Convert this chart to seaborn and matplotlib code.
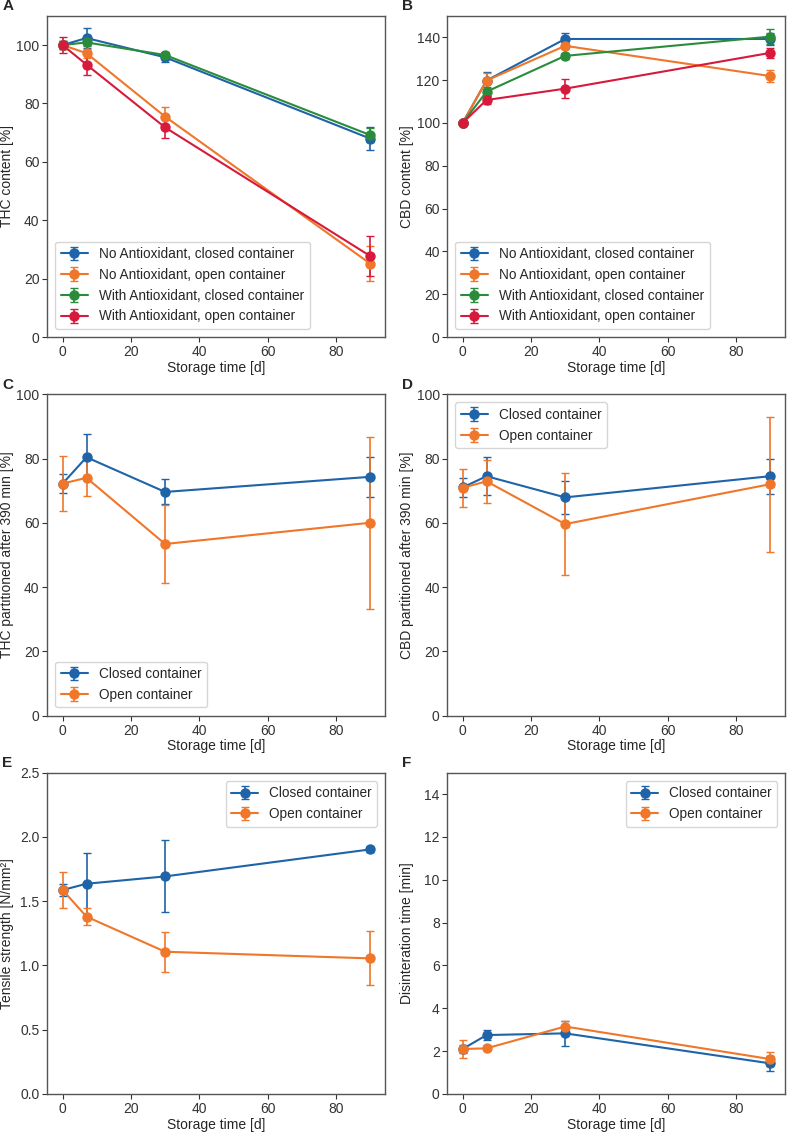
import matplotlib
matplotlib.use("Agg")
import matplotlib.pyplot as plt
import numpy as np
import seaborn as sns

# storage time points [d]
days = [0, 7, 30, 90]

# panel A: THC content [%]
thc_no_closed = [100.0, 102.4, 95.8, 68.0]
thc_no_closed_err = [1.5, 3.3, 1.5, 3.9]
thc_no_open = [100.0, 97.2, 75.5, 25.2]
thc_no_open_err = [1.5, 1.5, 3.3, 6.0]
thc_with_closed = [100.0, 100.9, 96.6, 69.2]
thc_with_closed_err = [1.5, 1.3, 1.0, 2.3]
thc_with_open = [100.0, 93.3, 71.8, 27.8]
thc_with_open_err = [2.7, 3.5, 3.7, 6.9]

# panel B: CBD content [%]
cbd_no_closed = [100.0, 119.8, 139.2, 139.2]
cbd_no_closed_err = [1.0, 4.0, 2.8, 3.0]
cbd_no_open = [100.0, 119.8, 136.0, 121.9]
cbd_no_open_err = [1.0, 3.5, 1.5, 3.0]
cbd_with_closed = [100.0, 114.6, 131.3, 140.3]
cbd_with_closed_err = [1.0, 2.0, 1.5, 3.5]
cbd_with_open = [100.0, 110.7, 116.0, 132.7]
cbd_with_open_err = [1.0, 2.0, 4.5, 2.2]

# panel C: THC partitioned after 390 min [%]
thc_part_closed = [72.2, 80.4, 69.6, 74.3]
thc_part_closed_err = [3.0, 7.2, 3.9, 6.2]
thc_part_open = [72.2, 74.0, 53.4, 60.0]
thc_part_open_err = [8.5, 5.8, 12.2, 26.8]

# panel D: CBD partitioned after 390 min [%]
cbd_part_closed = [71.0, 74.5, 67.9, 74.5]
cbd_part_closed_err = [3.0, 6.0, 5.1, 5.5]
cbd_part_open = [70.9, 72.9, 59.6, 72.0]
cbd_part_open_err = [5.9, 6.7, 15.9, 21.0]

# panel E: tensile strength [N/mm2]
tensile_closed = [1.587, 1.636, 1.693, 1.903]
tensile_closed_err = [0.05, 0.24, 0.28, 0.02]
tensile_open = [1.587, 1.380, 1.107, 1.055]
tensile_open_err = [0.14, 0.065, 0.155, 0.21]

# panel F: disintegration time [min]
disint_closed = [2.10, 2.75, 2.83, 1.43]
disint_closed_err = [0.2, 0.25, 0.59, 0.36]
disint_open = [2.10, 2.13, 3.15, 1.63]
disint_open_err = [0.4, 0.1, 0.27, 0.34]

four_labels = ["No Antioxidant, closed container", "No Antioxidant, open container",
               "With Antioxidant, closed container", "With Antioxidant, open container"]
two_labels = ["Closed container", "Open container"]

sns.set_theme(style="ticks")
plt.rcParams['font.family'] = ['Liberation Sans', 'DejaVu Sans']
plt.rcParams['font.size'] = 10
plt.rcParams['axes.labelsize'] = 10
plt.rcParams['xtick.labelsize'] = 10
plt.rcParams['ytick.labelsize'] = 10
plt.rcParams['legend.fontsize'] = 9.8
plt.rcParams['axes.edgecolor'] = '#555555'
plt.rcParams['axes.linewidth'] = 1.0
plt.rcParams['xtick.color'] = '#333333'
plt.rcParams['ytick.color'] = '#333333'
plt.rcParams['xtick.major.size'] = 3.5
plt.rcParams['ytick.major.size'] = 3.5
plt.rcParams['xtick.major.width'] = 0.8
plt.rcParams['ytick.major.width'] = 0.8
plt.rcParams['xtick.major.pad'] = 2.5
plt.rcParams['ytick.major.pad'] = 2

colors = ["#1f63a8", "#f0762a", "#2a8c3a", "#d71a3c"]


def draw(ax, series, labels, ylabel, ylim, loc, letter):
    for (vals, errs), lab, col in zip(series, labels, colors):
        ax.errorbar(days, vals, yerr=errs, label=lab, color=col, marker='o',
                    markersize=6.5, linewidth=1.5, capsize=3, elinewidth=1.2)
    ax.set_ylim(*ylim)
    ax.set_xlabel("Storage time [d]", labelpad=1)
    ax.set_ylabel(ylabel)
    ax.yaxis.set_label_coords(-0.098, 0.5)
    ax.legend(loc=loc, handlelength=2.0, borderaxespad=0.6)
    ax.text(-0.133, 1.03, letter, transform=ax.transAxes, fontsize=11,
            fontweight='bold', va='center', ha='left')


fig, axes = plt.subplots(3, 2, figsize=(7.87, 11.32), dpi=100)
fig.subplots_adjust(left=0.06, right=0.998, top=0.986, bottom=0.0336,
                     wspace=0.183, hspace=0.178)

draw(axes[0, 0],
     [(thc_no_closed, thc_no_closed_err), (thc_no_open, thc_no_open_err),
      (thc_with_closed, thc_with_closed_err), (thc_with_open, thc_with_open_err)],
     four_labels, "THC content [%]", (0, 110), "lower left", "A")
axes[0, 0].set_yticks([0, 20, 40, 60, 80, 100])

draw(axes[0, 1],
     [(cbd_no_closed, cbd_no_closed_err), (cbd_no_open, cbd_no_open_err),
      (cbd_with_closed, cbd_with_closed_err), (cbd_with_open, cbd_with_open_err)],
     four_labels, "CBD content [%]", (0, 150), "lower left", "B")
axes[0, 1].set_yticks([0, 20, 40, 60, 80, 100, 120, 140])

draw(axes[1, 0],
     [(thc_part_closed, thc_part_closed_err), (thc_part_open, thc_part_open_err)],
     two_labels, "THC partitioned after 390 min [%]", (0, 100), "lower left", "C")

draw(axes[1, 1],
     [(cbd_part_closed, cbd_part_closed_err), (cbd_part_open, cbd_part_open_err)],
     two_labels, "CBD partitioned after 390 min [%]", (0, 100), "upper left", "D")

draw(axes[2, 0],
     [(tensile_closed, tensile_closed_err), (tensile_open, tensile_open_err)],
     two_labels, "Tensile strength [N/mm²]", (0, 2.5), "upper right", "E")

draw(axes[2, 1],
     [(disint_closed, disint_closed_err), (disint_open, disint_open_err)],
     two_labels, "Disinteration time [min]", (0, 15), "upper right", "F")
axes[2, 1].set_yticks([0, 2, 4, 6, 8, 10, 12, 14])

for ax in axes.flat:
    ax.set_xticks([0, 20, 40, 60, 80])

fig.savefig("out.png", dpi=100)
